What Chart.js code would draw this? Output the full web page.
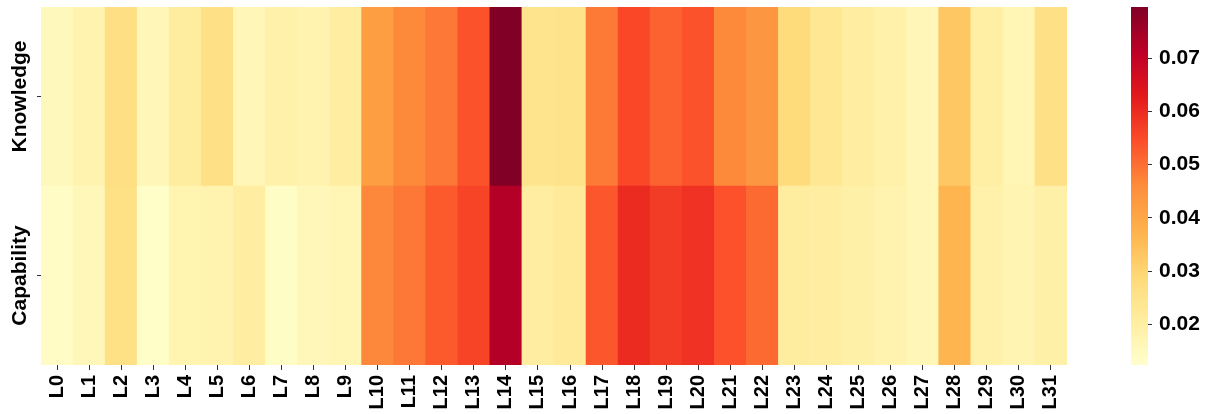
<!DOCTYPE html>
<html>
<head>
<meta charset="utf-8">
<script src="https://cdn.jsdelivr.net/npm/chart.js@4.4.1/dist/chart.umd.min.js"></script>
<style>
  html, body { margin: 0; padding: 0; background: #ffffff; }
  #wrap { position: relative; width: 1211px; height: 414px; overflow: hidden; }
  #heat { position: absolute; left: 0; top: 0; }
  #cbar { position: absolute; left: 1090px; top: 0; }
</style>
</head>
<body>
<div id="wrap">
  <canvas id="heat" width="1090" height="414"></canvas>
  <canvas id="cbar" width="121" height="414"></canvas>
</div>
<script>
// ---------------- data ----------------
const layers = ['L0','L1','L2','L3','L4','L5','L6','L7','L8','L9','L10','L11','L12','L13','L14','L15',
                'L16','L17','L18','L19','L20','L21','L22','L23','L24','L25','L26','L27','L28','L29','L30','L31'];
const rowLabels = ['Knowledge', 'Capability'];
const knowledge = [0.0155, 0.0180, 0.0265, 0.0165, 0.0210, 0.0260, 0.0165, 0.0188, 0.0180, 0.0205,
                   0.0422, 0.0466, 0.0490, 0.0539, 0.0796, 0.0245, 0.0250, 0.0487, 0.0555, 0.0517,
                   0.0539, 0.0466, 0.0440, 0.0280, 0.0232, 0.0205, 0.0190, 0.0165, 0.0330, 0.0200,
                   0.0170, 0.0260];
const capability = [0.0138, 0.0160, 0.0262, 0.0130, 0.0177, 0.0180, 0.0205, 0.0135, 0.0160, 0.0168,
                    0.0468, 0.0490, 0.0530, 0.0560, 0.0725, 0.0205, 0.0220, 0.0534, 0.0602, 0.0573,
                    0.0589, 0.0540, 0.0507, 0.0210, 0.0205, 0.0195, 0.0180, 0.0165, 0.0370, 0.0190,
                    0.0175, 0.0195];
const colorbarTicks = [0.02, 0.03, 0.04, 0.05, 0.06, 0.07];
const vmin = 0.0124;
const vmax = 0.0796;

// ---------------- YlOrRd colormap ----------------
const ylOrRd = [
  [255,255,204],[255,237,160],[254,217,118],[254,178,76],[253,141,60],
  [252,78,42],[227,26,28],[189,0,38],[128,0,38]
];
function cmap(v) {
  let t = (v - vmin) / (vmax - vmin);
  t = Math.max(0, Math.min(1, t));
  const pos = t * (ylOrRd.length - 1);
  const i = Math.min(Math.floor(pos), ylOrRd.length - 2);
  const f = pos - i;
  const a = ylOrRd[i], b = ylOrRd[i + 1];
  const c = a.map((x, k) => Math.round(x + (b[k] - x) * f));
  return `rgb(${c[0]},${c[1]},${c[2]})`;
}

const FONT = "'Liberation Sans', Arial, Helvetica, sans-serif";
const yFont = { family: FONT, size: 21, weight: 'bold' };

// measure widest y label to centre the rotated labels
const mctx = document.createElement('canvas').getContext('2d');
mctx.font = `bold ${yFont.size}px ${FONT}`;
const widestY = Math.max(...rowLabels.map(s => mctx.measureText(s).width));
const yLabelCenterX = 20;   // desired centre of rotated label
const yAxisWidth = 41;
const yTickLen = 4;
const yPad = yAxisWidth - yTickLen - yLabelCenterX - widestY / 2;

// ---------------- heatmap ----------------
new Chart(document.getElementById('heat'), {
  type: 'bar',
  data: {
    labels: layers,
    datasets: [
      { label: rowLabels[1], data: capability.map(v => [0, 1]), backgroundColor: capability.map(cmap),
        borderWidth: 0, barPercentage: 1, categoryPercentage: 1 },
      { label: rowLabels[0], data: knowledge.map(v => [1, 2]), backgroundColor: knowledge.map(cmap),
        borderWidth: 0, barPercentage: 1, categoryPercentage: 1 }
    ]
  },
  options: {
    responsive: false,
    animation: false,
    devicePixelRatio: 1,
    layout: { padding: { top: 7, right: 23, left: 0, bottom: 0 } },
    plugins: { legend: { display: false }, tooltip: { enabled: false }, title: { display: false } },
    scales: {
      x: {
        type: 'category',
        stacked: true,
        offset: true,
        grid: { display: true, offset: false, drawOnChartArea: false, drawTicks: true, tickLength: 5,
                tickColor: '#333333', lineWidth: 1 },
        border: { display: false },
        ticks: { color: '#000000', font: { family: FONT, size: 20, weight: 'bold' }, minRotation: 90, maxRotation: 90,
                 autoSkip: false, padding: 5 },
        afterFit: s => { s.height = 49; }
      },
      y: {
        type: 'linear',
        min: 0,
        max: 2,
        grid: { display: true, drawOnChartArea: false, drawTicks: true, tickLength: yTickLen, tickColor: '#333333', lineWidth: 1 },
        border: { display: false },
        afterBuildTicks: s => { s.ticks = [{ value: 0.5 }, { value: 1.5 }]; },
        ticks: {
          color: '#000000', font: yFont, minRotation: 90, maxRotation: 90, autoSkip: false,
          crossAlign: 'center', padding: yPad,
          callback: v => (v === 1.5 ? rowLabels[0] : rowLabels[1])
        },
        afterFit: s => { s.width = yAxisWidth; s.paddingTop = 0; s.paddingBottom = 0; }
      }
    }
  }
});

// ---------------- colorbar ----------------
new Chart(document.getElementById('cbar'), {
  type: 'bar',
  data: {
    labels: ['cb'],
    datasets: [{
      data: [[vmin, vmax]],
      borderWidth: 0, barPercentage: 1, categoryPercentage: 1,
      backgroundColor: (ctx) => {
        const ch = ctx.chart, area = ch.chartArea;
        if (!area) return '#ffffcc';
        const g = ch.ctx.createLinearGradient(0, area.bottom, 0, area.top);
        ylOrRd.forEach((c, i) => g.addColorStop(i / (ylOrRd.length - 1), `rgb(${c[0]},${c[1]},${c[2]})`));
        return g;
      }
    }]
  },
  options: {
    responsive: false,
    animation: false,
    devicePixelRatio: 1,
    layout: { padding: { top: 7, right: 0, left: 41, bottom: 49 } },
    plugins: { legend: { display: false }, tooltip: { enabled: false } },
    scales: {
      x: { display: false },
      y: {
        type: 'linear',
        position: 'right',
        min: vmin,
        max: vmax,
        grid: { display: true, drawOnChartArea: false, drawTicks: true, tickLength: 4, tickColor: '#333333', lineWidth: 1 },
        border: { display: false },
        afterBuildTicks: s => { s.ticks = colorbarTicks.map(v => ({ value: v })); },
        ticks: { color: '#000000', font: { family: FONT, size: 21, weight: 'bold' }, padding: 7,
                 callback: v => v.toFixed(2) },
        afterFit: s => { s.width = 63; s.paddingTop = 0; s.paddingBottom = 0; }
      }
    }
  }
});
</script>
</body>
</html>
